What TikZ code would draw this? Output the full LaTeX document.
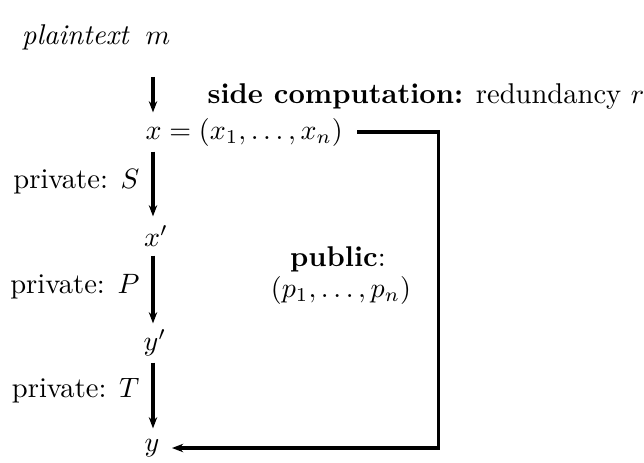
\documentclass[tikz,border=0pt]{standalone}
\usepackage{amsmath,amssymb}
\usetikzlibrary{arrows.meta,positioning}
\tikzset{
  flowarr/.style={-{Stealth[length=4pt,width=3pt]}, line width=1.1pt},
  var/.style={inner sep=0pt, minimum height=13.6pt},
  lbl/.style={inner sep=0pt, anchor=east},
  txt/.style={inner sep=0pt},
}

\begin{document}
\begin{tikzpicture}[x=0.357pt, y=-0.357pt, font=\fontsize{10.2}{12.2}\selectfont]
  \useasboundingbox (0,0) rectangle (644,462);
  \coordinate (col) at (153,0);
  \node[txt] (plain) at (96,37) {\textit{plaintext}\hspace{0.55em}$m$};
  \node[var, anchor=west] (xv) at (145,132) {$x=(x_1,\dots,x_n)$};
  \node[var] (xp) at (156,236) {$x'$};
  \node[var] (yp) at (155,343) {$y'$};
  \node[var] (yv) at (152,448) {$y$};
  \node[txt, anchor=west] (side) at (207,96) {\textbf{side computation:} redundancy $r$};
  \node[txt] (pub) at (338,259) {\textbf{public}:};
  \node[txt] (pubkey) at (341,290) {$(p_1,\dots,p_n)$};
  \node[lbl] (lS) at (140,182) {private: $S$};
  \node[lbl] (lP) at (140,287) {private: $P$};
  \node[lbl] (lT) at (140,391) {private: $T$};
  % main chain
  \draw[flowarr, shorten <=9.5pt] (plain.south -| col) -- (xv.north -| col);
  \draw[flowarr] (xv.south -| col) -- (xp.north -| col);
  \draw[flowarr] (xp.south -| col) -- (yp.north -| col);
  \draw[flowarr] (yp.south -| col) -- (yv.north -| col);
  % public key path
  \draw[flowarr] ([xshift=5pt]xv.east) -- ++(81,0) |- ([xshift=4.3pt]yv.east);
\end{tikzpicture}
\end{document}
